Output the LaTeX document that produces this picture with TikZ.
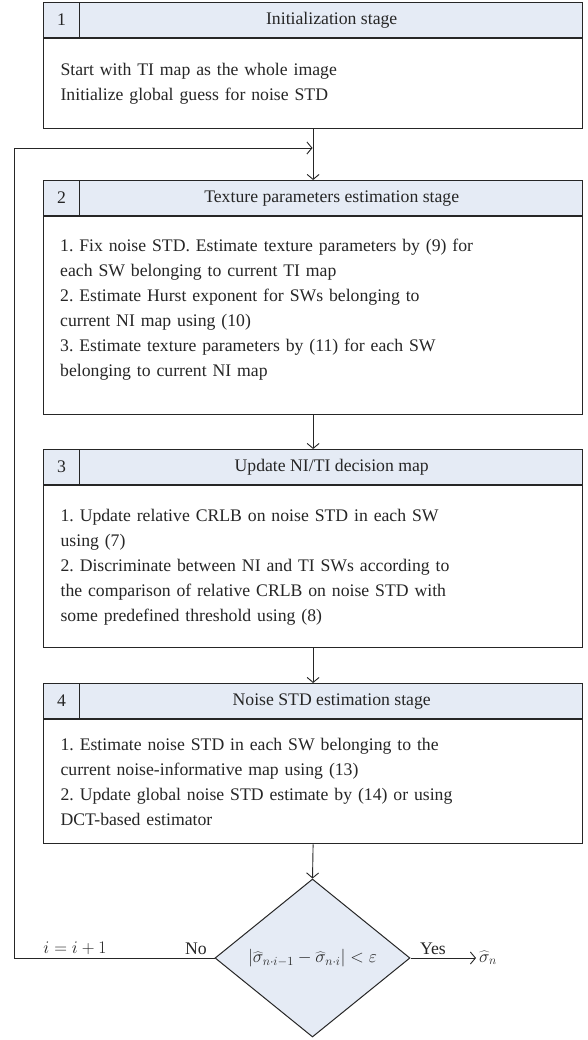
\RequirePackage{fix-cm}
\documentclass[tikz,border=0pt]{standalone}
\usepackage{fontspec}
\setmainfont{Liberation Serif}
\usetikzlibrary{shapes.geometric,arrows.meta,calc}
\definecolor{hdrfill}{HTML}{E5EBF5}
\definecolor{ln}{HTML}{262626}
\begin{document}
\frenchspacing
\begin{tikzpicture}[x=1pt,y=-1pt,
  font=\fontsize{17.7}{25}\selectfont, text=ln,
  hdr/.style={draw=ln, line width=1.2pt, fill=hdrfill, minimum width=539pt, minimum height=35pt, anchor=north west, inner sep=0pt},
  num/.style={draw=ln, line width=1.2pt, fill=hdrfill, minimum width=36pt, minimum height=35pt, anchor=north west, inner sep=0pt},
  body/.style={draw=ln, line width=1.2pt, fill=white, minimum width=539pt, anchor=north west, inner xsep=17pt, inner ysep=0pt, text width=505pt, align=left},
  btext/.style={anchor=north west, inner sep=0pt, text width=505pt, align=left},
  sep/.style={draw=ln, line width=2pt},
  arr/.style={draw=ln, line width=0.9pt, -{Straight Barb[length=5pt,width=12pt]}},
  lbl/.style={anchor=south, inner sep=0pt, text=ln},
  dec/.style={diamond, draw=ln, line width=1pt, fill=hdrfill, minimum width=195pt, minimum height=158pt, shape aspect=1.23, inner sep=0pt}
]
\useasboundingbox (0,0) rectangle (587,1040);
\fill[white] (0,0) rectangle (587,1040);

% Box 1
\node[hdr] (h1) at (43,2) {};
\node[num] (n1) at (43,2) {1};
\node (t1) at ($(n1.east)!0.5!(h1.east)$) {Initialization stage};
\node[body, minimum height=90pt] (b1) at (h1.south west) {Start with TI map as the whole image\\Initialize global guess for noise STD};
\draw[sep] (h1.south west) -- (h1.south east);

% Box 2
\node[hdr] (h2) at (43,180) {};
\node[num] (n2) at (43,180) {2};
\node (t2) at ($(n2.east)!0.5!(h2.east)$) {Texture parameters estimation stage};
\node[body, minimum height=198pt] (b2) at (h2.south west) {};
\node[btext] (b2t) at (60,239) {1. Fix noise STD. Estimate texture parameters by (9) for\\each SW belonging to current TI map\\2. Estimate Hurst exponent for SWs belonging to\\current NI map using (10)\\3. Estimate texture parameters by (11) for each SW\\belonging to current NI map};
\draw[sep] (h2.south west) -- (h2.south east);

% Box 3
\node[hdr] (h3) at (43,449) {};
\node[num] (n3) at (43,449) {3};
\node (t3) at ($(n3.east)!0.5!(h3.east)$) {Update NI/TI decision map};
\node[body, minimum height=162pt] (b3) at (h3.south west) {1. Update relative CRLB on noise STD in each SW\\using (7)\\2. Discriminate between NI and TI SWs according to\\the comparison of relative CRLB on noise STD with\\some predefined threshold using (8)};
\draw[sep] (h3.south west) -- (h3.south east);

% Box 4
\node[hdr] (h4) at (43,683) {};
\node[num] (n4) at (43,683) {4};
\node (t4) at ($(n4.east)!0.5!(h4.east)$) {Noise STD estimation stage};
\node[body, minimum height=124pt] (b4) at (h4.south west) {1. Estimate noise STD in each SW belonging to the\\current noise-informative map using (13)\\2. Update global noise STD estimate by (14) or using\\DCT-based estimator};
\draw[sep] (h4.south west) -- (h4.south east);

% Decision
\node[dec] (d) at (312.5,958) {$|\widehat{\sigma}_{n\cdot i-1}-\widehat{\sigma}_{n\cdot i}|<\varepsilon$};
\node[anchor=west, inner sep=3pt] (out) at (476,958) {$\widehat{\sigma}_n$};

% Connectors
\draw[arr] (b1.south) -- (h2.north);
\draw[arr] (b2.south) -- (h3.north);
\draw[arr] (b3.south) -- (h4.north);
\draw[arr] (b4.south) -- (d.north);
\draw[arr] (d.east) -- (out.west);

\coordinate (c1) at (14,958);
\coordinate (c2) at (14,148);
\coordinate (m) at (312.5,148);
\draw[arr] (d.west) -- (c1) -- (c2) -- (m);

% Labels
\node[lbl] (lno) at (196,955) {No};
\node[lbl] (lyes) at (433,955) {Yes};
\node[lbl] (linc) at (75,955) {$i=i+1$};
\end{tikzpicture}
\end{document}
